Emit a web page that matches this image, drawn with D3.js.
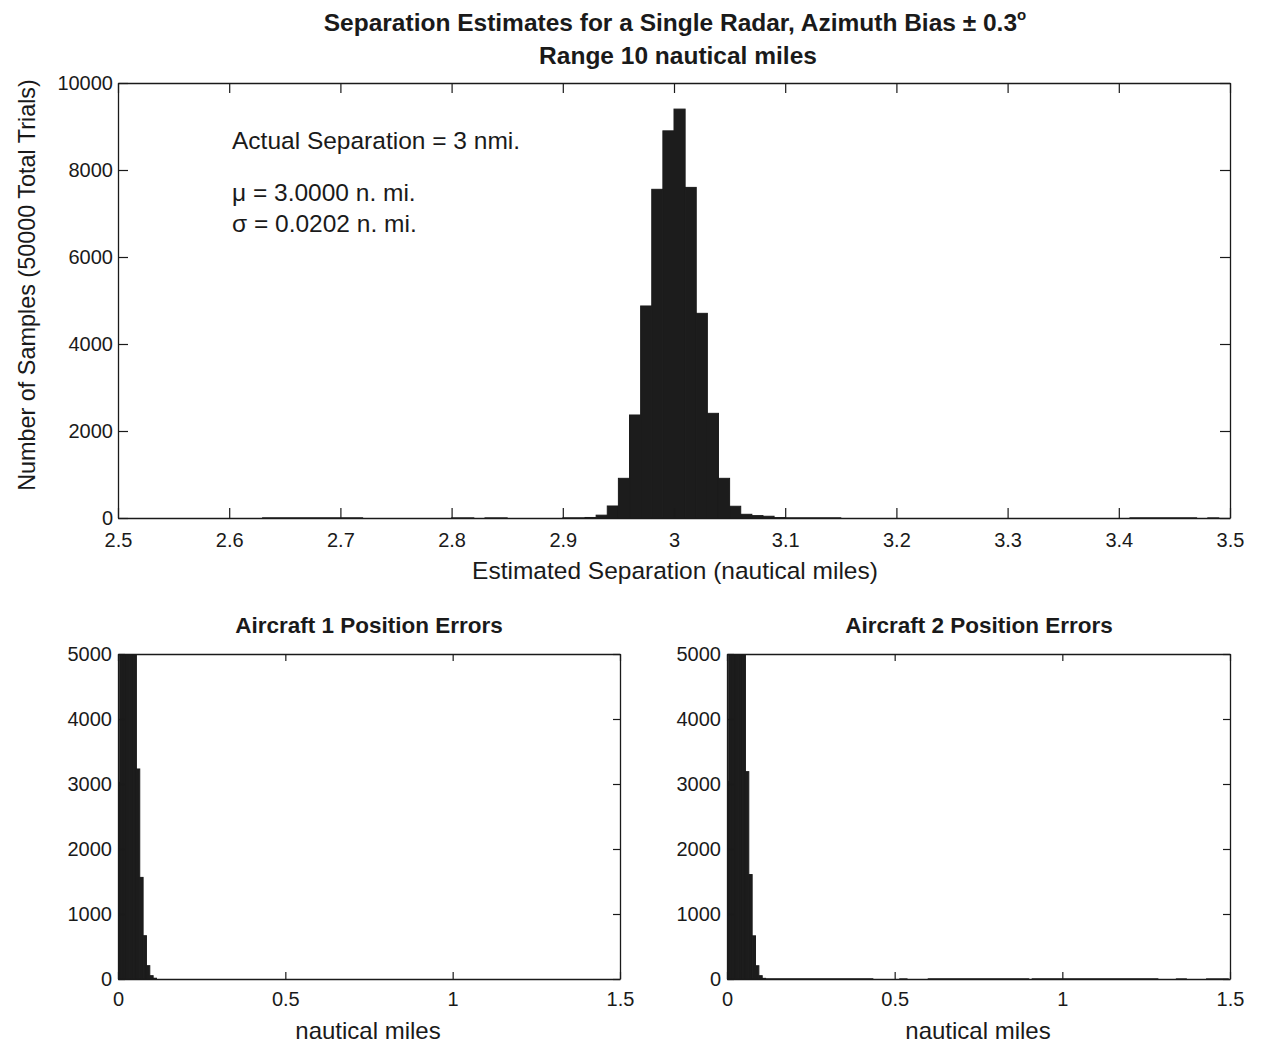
<!DOCTYPE html>
<html>
<head>
<meta charset="utf-8">
<script src="https://cdn.jsdelivr.net/npm/d3@7"></script>
<style>
  body { margin: 0; background: #fff; }
  svg { display: block; }
  text { font-family: "Liberation Sans", Arial, Helvetica, sans-serif; fill: #1a1a1a; }
</style>
</head>
<body>
<svg id="chart" width="1268" height="1046"></svg>
<script>
// ---------- DATA ----------
// Top: separation estimate histogram (bin width 0.01, left edges)
const sepBinLeft = [2.92, 2.93, 2.94, 2.95, 2.96, 2.97, 2.98, 2.99, 3.00, 3.01, 3.02, 3.03, 3.04, 3.05, 3.06, 3.07, 3.08, 3.09];
const sepCounts  = [12, 65, 276, 912, 2368, 4874, 7556, 8900, 9400, 7600, 4705, 2406, 912, 270, 85, 55, 40, 10];
// sparse near-zero tail ranges [from, to, count]
const sepTailFrom  = [2.63, 2.80, 2.83, 2.90, 3.10, 3.41, 3.48];
const sepTailTo    = [2.72, 2.82, 2.85, 2.92, 3.15, 3.47, 3.49];
const sepTailCount = [4, 3, 3, 4, 4, 4, 3];

// Bottom: position error histograms (bins of width 0.01 centred on multiples of 0.01)
const errBinCenter = [0, 0.01, 0.02, 0.03, 0.04, 0.05, 0.06, 0.07, 0.08, 0.09, 0.10, 0.11];
const err1Counts   = [3025, 7600, 8500, 8700, 8600, 7800, 3231, 1563, 666, 205, 51, 12];
const err2Counts   = [3037, 7700, 8400, 8650, 8550, 7850, 3190, 1607, 664, 204, 51, 10];
const err2TailFrom  = [0.115, 0.515, 0.60, 0.91, 1.34, 1.43];
const err2TailTo    = [0.435, 0.537, 0.90, 1.285, 1.37, 1.495];
const err2TailCount = [3, 2, 3, 3, 2, 2];

const sepXTicks = [2.5, 2.6, 2.7, 2.8, 2.9, 3.0, 3.1, 3.2, 3.3, 3.4, 3.5];
const sepXTickLabels = ["2.5", "2.6", "2.7", "2.8", "2.9", "3", "3.1", "3.2", "3.3", "3.4", "3.5"];
const sepYTicks = [0, 2000, 4000, 6000, 8000, 10000];
const errXTicks = [0, 0.5, 1, 1.5];
const errXTickLabels = ["0", "0.5", "1", "1.5"];
const errYTicks = [0, 1000, 2000, 3000, 4000, 5000];

const titleLine1 = "Separation Estimates for a Single Radar, Azimuth Bias \u00b1 0.3";
const titleLine2 = "Range 10 nautical miles";
const annotations = ["Actual Separation = 3 nmi.", "\u03bc = 3.0000 n. mi.", "\u03c3 = 0.0202 n. mi."];

// ---------- DRAW ----------
const svg = d3.select("#chart");
const INK = "#1a1a1a";
const BAR = "#1c1c1c";

function panel(cfg) {
  const x = d3.scaleLinear().domain(cfg.xDomain).range([cfg.left, cfg.right]);
  const y = d3.scaleLinear().domain(cfg.yDomain).range([cfg.bottom, cfg.top]);
  const g = svg.append("g");
  const clipId = "clip" + cfg.id;
  svg.append("clipPath").attr("id", clipId).append("rect")
    .attr("x", cfg.left).attr("y", cfg.top)
    .attr("width", cfg.right - cfg.left).attr("height", cfg.bottom - cfg.top);

  const bars = g.append("g").attr("clip-path", `url(#${clipId})`);
  bars.selectAll("rect").data(cfg.bins).join("rect")
    .attr("x", d => x(d.x0))
    .attr("width", d => x(d.x1) - x(d.x0))
    .attr("y", d => y(d.v))
    .attr("height", d => y(0) - y(d.v))
    .attr("fill", BAR).attr("stroke", BAR).attr("stroke-width", 1);

  const tl = cfg.tickLen;
  const ax = d3.axisBottom(x).tickValues(cfg.xTicks)
    .tickFormat((d, i) => cfg.xLabels[i]).tickSizeInner(-tl).tickSizeOuter(0).tickPadding(cfg.xPad);
  const gx = g.append("g").attr("transform", `translate(0,${cfg.bottom})`).call(ax);
  const gxt = g.append("g").attr("transform", `translate(0,${cfg.top})`)
    .call(d3.axisTop(x).tickValues(cfg.xTicks).tickFormat("").tickSizeInner(-tl).tickSizeOuter(0));
  const ay = d3.axisLeft(y).tickValues(cfg.yTicks).tickFormat(d3.format("d"))
    .tickSizeInner(-tl).tickSizeOuter(0).tickPadding(cfg.yPad);
  const gy = g.append("g").attr("transform", `translate(${cfg.left},0)`).call(ay);
  const gyr = g.append("g").attr("transform", `translate(${cfg.right},0)`)
    .call(d3.axisRight(y).tickValues(cfg.yTicks).tickFormat("").tickSizeInner(-tl).tickSizeOuter(0));

  [gx, gxt, gy, gyr].forEach(a => {
    a.select(".domain").attr("stroke", INK).attr("stroke-width", 1.3);
    a.selectAll(".tick line").attr("stroke", INK).attr("stroke-width", 1.2);
    a.selectAll(".tick text").attr("fill", INK)
      .style("font-family", "'Liberation Sans', Arial, sans-serif")
      .style("font-size", cfg.tickFont + "px");
  });
  return { x, y, g };
}

const sepBins = sepBinLeft.map((l, i) => ({ x0: l, x1: l + 0.01, v: sepCounts[i] }))
  .concat(sepTailFrom.map((f, i) => ({ x0: f, x1: sepTailTo[i], v: sepTailCount[i] })));
const topPanel = panel({
  id: "top", left: 118, right: 1230, top: 83, bottom: 518,
  xDomain: [2.5, 3.5], yDomain: [0, 10000],
  xTicks: sepXTicks, xLabels: sepXTickLabels, yTicks: sepYTicks,
  bins: sepBins, tickLen: 10, tickFont: 20, xPad: 15, yPad: 5
});

const err1Bins = errBinCenter.map((c, i) => ({ x0: c - 0.005, x1: c + 0.005, v: err1Counts[i] }));
const blPanel = panel({
  id: "bl", left: 118, right: 620, top: 654, bottom: 979,
  xDomain: [0, 1.5], yDomain: [0, 5000],
  xTicks: errXTicks, xLabels: errXTickLabels, yTicks: errYTicks,
  bins: err1Bins, tickLen: 7, tickFont: 20, xPad: 13, yPad: 6
});

const err2Bins = errBinCenter.map((c, i) => ({ x0: c - 0.005, x1: c + 0.005, v: err2Counts[i] }))
  .concat(err2TailFrom.map((f, i) => ({ x0: f, x1: err2TailTo[i], v: err2TailCount[i] })));
const brPanel = panel({
  id: "br", left: 727, right: 1230, top: 654, bottom: 979,
  xDomain: [0, 1.5], yDomain: [0, 5000],
  xTicks: errXTicks, xLabels: errXTickLabels, yTicks: errYTicks,
  bins: err2Bins, tickLen: 7, tickFont: 20, xPad: 13, yPad: 6
});

const t1 = svg.append("text").attr("x", 675).attr("y", 31).attr("text-anchor", "middle")
  .attr("font-weight", "bold").attr("font-size", 24.5).text(titleLine1);
t1.append("tspan").attr("font-size", 15).attr("dy", -11).text("o");
svg.append("text").attr("x", 678).attr("y", 64).attr("text-anchor", "middle")
  .attr("font-weight", "bold").attr("font-size", 24.5).text(titleLine2);

svg.append("text").attr("x", 675).attr("y", 579).attr("text-anchor", "middle")
  .attr("font-size", 24.5).text("Estimated Separation (nautical miles)");
svg.append("text").attr("transform", "translate(35,285) rotate(-90)").attr("text-anchor", "middle")
  .attr("font-size", 23.4).text("Number of Samples (50000 Total Trials)");

const annY = [149, 201, 232];
annotations.forEach((s, i) => {
  svg.append("text").attr("x", 232).attr("y", annY[i]).attr("font-size", 24.5).text(s);
});

svg.append("text").attr("x", 369).attr("y", 633).attr("text-anchor", "middle")
  .attr("font-weight", "bold").attr("font-size", 22.5).text("Aircraft 1 Position Errors");
svg.append("text").attr("x", 979).attr("y", 633).attr("text-anchor", "middle")
  .attr("font-weight", "bold").attr("font-size", 22.5).text("Aircraft 2 Position Errors");
svg.append("text").attr("x", 368).attr("y", 1039).attr("text-anchor", "middle")
  .attr("font-size", 24).text("nautical miles");
svg.append("text").attr("x", 978).attr("y", 1039).attr("text-anchor", "middle")
  .attr("font-size", 24).text("nautical miles");
</script>
</body>
</html>
